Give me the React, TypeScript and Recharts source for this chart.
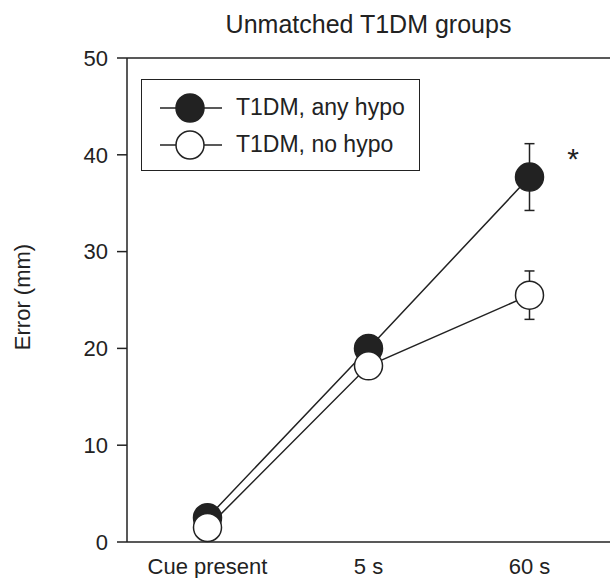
import React from "react";
import {
  ComposedChart,
  Line,
  XAxis,
  YAxis,
  ErrorBar,
  ReferenceLine,
  ReferenceDot,
  Label,
} from "recharts";

const CATEGORIES = ["Cue present", "5 s", "60 s"];
const ANY_HYPO = [2.5, 20.0, 37.7];
const ANY_HYPO_ERR = [0, 0, 3.45];
const NO_HYPO = [1.5, 18.2, 25.5];
const NO_HYPO_ERR = [0, 0, 2.5];
const Y_TICKS = [0, 10, 20, 30, 40, 50];
const SERIES_NAMES = ["T1DM, any hypo", "T1DM, no hypo"];
// significance marker next to the 60 s point
const STAR = { x: 2.77, y: 40.3, text: "*" };

const INK = "#222222";
const FONT = "'Liberation Sans', Arial, sans-serif";

const data = CATEGORIES.map((cat, i) => ({
  x: i + 0.5,
  cat,
  any: ANY_HYPO[i],
  anyErr: ANY_HYPO_ERR[i],
  no: NO_HYPO[i],
  noErr: NO_HYPO_ERR[i],
}));

const LegendRow: React.FC<{ filled: boolean; label: string }> = ({ filled, label }) => (
  <div style={{ display: "flex", alignItems: "center", height: 37 }}>
    <svg width={90} height={34} style={{ flexShrink: 0 }}>
      <line x1={18} y1={17} x2={80} y2={17} stroke={INK} strokeWidth={1.5} />
      <circle cx={48} cy={17} r={14} fill={filled ? INK : "#fff"} stroke={INK} strokeWidth={1.5} />
    </svg>
    <span style={{ fontSize: 23, color: INK, marginLeft: 4 }}>{label}</span>
  </div>
);

export default function App() {
  return (
    <div style={{ position: "absolute", left: 0, top: 0, width: 610, height: 578, fontFamily: FONT, background: "#fff" }}>
      <div
        style={{
          position: "absolute",
          left: 127,
          width: 483,
          top: 12,
          textAlign: "center",
          fontSize: 25,
          lineHeight: "25px",
          color: INK,
        }}
      >
        Unmatched T1DM groups
      </div>

      <ComposedChart width={610} height={578} data={data} margin={{ top: 58, right: 0, bottom: 0, left: 0 }}>
        <XAxis
          type="number"
          dataKey="x"
          domain={[0, 3]}
          ticks={data.map((d) => d.x)}
          tickFormatter={(v: number) => CATEGORIES[Math.round(v - 0.5)] ?? ""}
          height={36}
          tickLine={false}
          tickSize={0}
          tickMargin={16}
          axisLine={{ stroke: INK, strokeWidth: 1.5 }}
          tick={{ fill: INK, fontSize: 22, fontFamily: FONT }}
        />
        <YAxis
          type="number"
          domain={[0, 50]}
          ticks={Y_TICKS}
          width={127}
          tickSize={10}
          tickMargin={9}
          axisLine={{ stroke: INK, strokeWidth: 1.5 }}
          tickLine={{ stroke: INK, strokeWidth: 1.5 }}
          tick={{ fill: INK, fontSize: 22, fontFamily: FONT }}
        >
          <Label
            content={({ viewBox }: any) => {
              const cx = 22;
              const cy = viewBox.y + viewBox.height / 2 - 3;
              return (
                <text
                  x={cx}
                  y={cy}
                  transform={`rotate(-90 ${cx} ${cy})`}
                  textAnchor="middle"
                  dominantBaseline="central"
                  fontSize={22}
                  fontFamily={FONT}
                  fill={INK}
                >
                  Error (mm)
                </text>
              );
            }}
          />
        </YAxis>
        <ReferenceLine y={50} stroke={INK} strokeWidth={1.5} />
        <Line
          type="linear"
          dataKey="any"
          stroke={INK}
          strokeWidth={1.5}
          dot={{ r: 14, fill: INK, stroke: INK, strokeWidth: 1.5 }}
          activeDot={false}
          isAnimationActive={false}
        >
          <ErrorBar dataKey="anyErr" width={5} stroke={INK} strokeWidth={1.5} />
        </Line>
        <Line
          type="linear"
          dataKey="no"
          stroke={INK}
          strokeWidth={1.5}
          dot={{ r: 14, fill: "#fff", stroke: INK, strokeWidth: 1.5 }}
          activeDot={false}
          isAnimationActive={false}
        >
          <ErrorBar dataKey="noErr" width={5} stroke={INK} strokeWidth={1.5} />
        </Line>
        <ReferenceDot
          x={STAR.x}
          y={STAR.y}
          r={0}
          shape={(p: any) => (
            <text x={p.cx} y={p.cy} dy={17} textAnchor="middle" fontSize={30} fontFamily={FONT} fill={INK}>
              {STAR.text}
            </text>
          )}
        />
      </ComposedChart>

      <div
        style={{
          position: "absolute",
          left: 141,
          top: 79,
          width: 279,
          height: 92,
          boxSizing: "border-box",
          border: `1.5px solid ${INK}`,
          paddingTop: 9,
        }}
      >
        <LegendRow filled label={SERIES_NAMES[0]} />
        <LegendRow filled={false} label={SERIES_NAMES[1]} />
      </div>
    </div>
  );
}
